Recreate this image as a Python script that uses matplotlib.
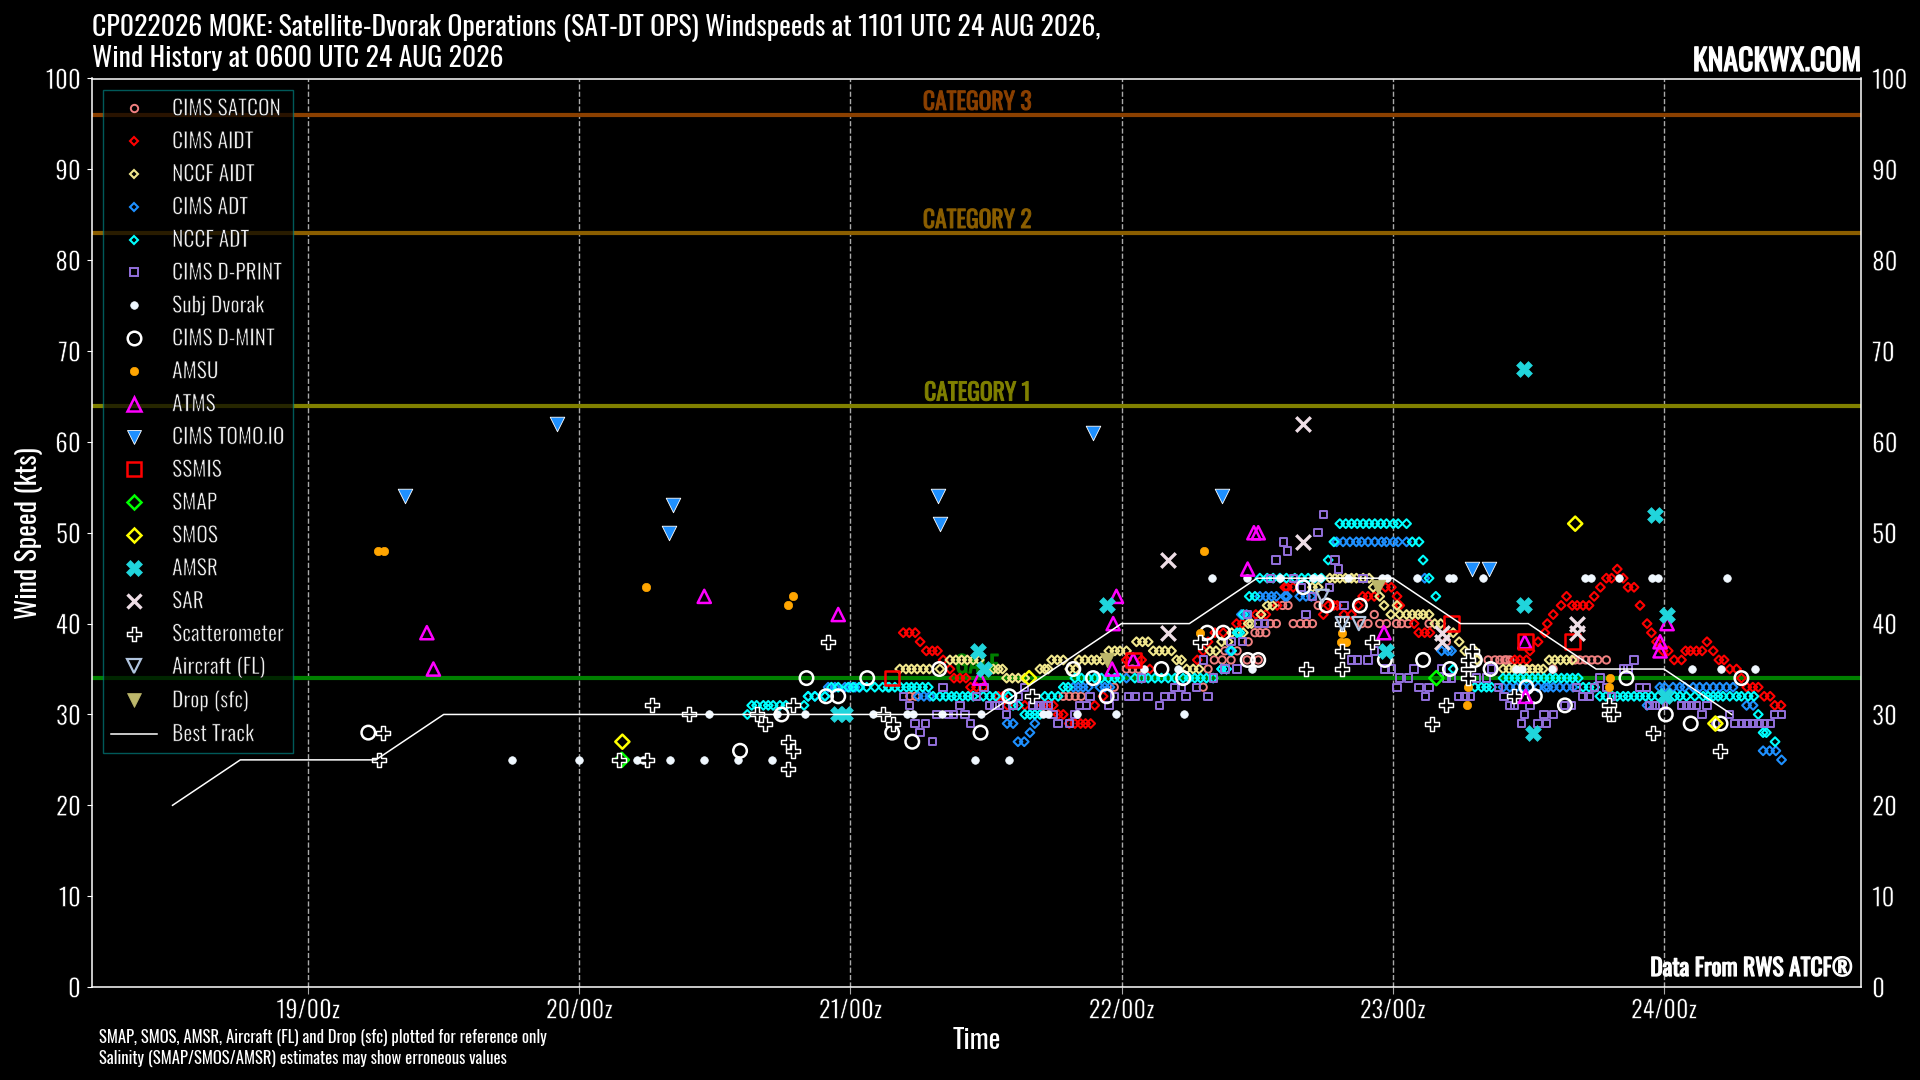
#!/usr/bin/env python3
# -*- coding: utf-8 -*-
import matplotlib
matplotlib.use("Agg")
import matplotlib.pyplot as plt
import matplotlib.patheffects as pe
from matplotlib.lines import Line2D

plt.rcParams['font.family'] = ['Oswald', 'DejaVu Sans']

# times are decimal days of August, each series is grouped as (wind, [times])
best_x = [18.5, 18.75, 19.25, 19.5, 21.5, 22.0, 22.25, 22.5, 23.0, 23.25, 23.5, 23.75, 24.0, 24.25]
best_y = [20, 25, 25, 30, 30, 40, 40, 45, 45, 40, 40, 35, 35, 30]

satcon = [
    (32, [21.219, 21.241, 21.785, 21.807, 21.829, 21.851]),
    (33, [21.973, 22.301]),
    (35, [22.018, 22.04, 22.062, 22.319, 23.493, 23.515, 23.592]),
    (36, [22.342, 22.371, 22.404, 22.463, 22.504, 23.352, 23.377, 23.395, 23.413, 23.42, 23.432,
          23.672, 23.69, 23.712, 23.734, 23.756, 23.788]),
    (37, [22.381, 22.426]),
    (38, [22.467, 23.198]),
    (39, [22.492, 22.51, 22.532]),
    (40, [22.549, 22.571, 22.633, 22.66, 22.682, 22.704, 22.885, 22.909, 22.952, 22.977, 23.014,
          23.032, 23.057, 23.134]),
    (41, [22.932]),
    (42, [22.594, 22.614, 22.725]),
]
aidt = [
    (39, [21.195, 21.217, 21.239, 22.344, 22.375, 23.096, 23.118, 23.137, 23.561, 23.954]),
    (38, [21.257, 22.319, 23.536, 23.973, 24.159]),
    (37, [21.28, 21.302, 21.321, 22.301, 23.506, 23.997, 24.016, 24.08, 24.098, 24.12, 24.141, 24.182]),
    (36, [21.342, 22.018, 22.074, 22.279, 23.45, 23.469, 23.493, 24.038, 24.065, 24.203, 24.222]),
    (35, [21.367, 22.104, 24.243, 24.268]),
    (34, [21.382, 21.404, 21.426, 24.286]),
    (33, [21.443, 21.465, 21.49, 24.306, 24.328, 24.348]),
    (32, [21.545, 21.563, 21.932, 24.37, 24.392]),
    (31, [21.579, 21.643, 21.711, 21.729, 21.748, 21.901, 24.409, 24.432]),
    (30, [21.766, 21.785]),
    (29, [21.807, 21.828, 21.849, 21.867, 21.886]),
    (40, [22.424, 22.445, 23.079, 23.57, 23.938]),
    (41, [22.495, 22.514, 22.532, 22.744, 22.82, 22.848, 23.592]),
    (42, [22.574, 22.762, 22.783, 22.795, 22.873, 23.026, 23.621, 23.662, 23.68, 23.702, 23.724, 23.912]),
    (43, [22.889, 22.909, 22.932, 23.016, 23.641, 23.743]),
    (44, [22.602, 22.611, 22.633, 22.973, 22.995, 23.766, 23.868, 23.89]),
    (45, [23.788, 23.807, 23.85]),
    (46, [23.828]),
]
nccf_aidt = [
    (34, [21.576, 21.597, 21.619, 21.643]),
    (35, [21.182, 21.205, 21.225, 21.246, 21.269, 21.291, 21.33, 21.527, 21.545, 21.561, 21.699,
          21.717, 21.729, 21.809, 21.831, 22.24, 22.264, 22.286, 23.407, 23.429, 23.45, 23.47,
          23.494, 23.515, 23.536, 23.555]),
    (36, [21.367, 21.389, 21.41, 21.431, 21.453, 21.475, 21.742, 21.763, 21.785, 21.843, 21.865,
          21.889, 21.908, 21.93, 22.203, 22.221, 23.311, 23.577, 23.598, 23.619, 23.641, 23.662]),
    (37, [21.953, 21.975, 21.994, 22.018, 22.117, 22.139, 22.16, 22.184, 22.326, 22.348, 23.266, 23.303]),
    (38, [22.055, 22.077, 22.098, 22.369, 22.393, 23.245]),
    (39, [22.406, 22.449, 23.198, 23.223]),
    (40, [22.467, 22.479, 23.155, 23.177]),
    (41, [22.514, 22.993, 23.026, 23.051, 23.072, 23.094, 23.112, 23.134]),
    (42, [22.537, 22.557, 22.968, 23.016]),
    (43, [22.952]),
    (44, [22.704, 22.725, 22.928]),
    (45, [22.768, 22.787, 22.805, 22.826, 22.848, 22.866, 22.891, 22.913]),
]
cims_adt = [
    (32, [21.25, 21.271, 21.293, 20.844, 20.869, 20.906]),
    (33, [20.918, 20.943, 20.98, 20.998, 21.017, 21.035, 21.822, 21.84, 21.858, 21.877, 21.92,
          21.938, 21.957, 23.407, 23.432, 23.456, 23.481, 23.506, 23.536, 23.561, 23.573, 23.592,
          23.616, 23.641, 23.665, 23.985, 24.003, 24.034, 24.059, 24.077, 24.108, 24.132, 24.157,
          24.182, 24.206, 24.231, 24.255]),
    (29, [21.578, 21.6, 21.68]),
    (28, [21.662]),
    (27, [21.618, 21.641]),
    (34, [22.018, 22.074]),
    (35, [22.369, 22.387]),
    (37, [22.399, 23.18, 23.204, 23.217]),
    (41, [22.442, 22.461]),
    (43, [22.51, 22.532, 22.553, 22.571, 22.602, 22.611, 22.657, 22.68, 22.7]),
    (49, [22.793, 22.817, 22.842, 22.866, 22.885, 22.909, 22.934, 22.959, 22.977, 23.002, 23.02, 23.051]),
    (45, [23.118]),
    (31, [23.938, 24.305, 24.329]),
    (26, [24.366, 24.39, 24.413]),
    (25, [24.434]),
]
nccf_adt = [
    (31, [20.636, 20.654, 20.679, 20.697, 20.715, 20.74, 20.762, 20.829, 21.6, 21.619]),
    (30, [20.62, 21.643, 21.662, 21.68, 21.699, 24.348]),
    (32, [20.844, 20.869, 20.906, 21.305, 21.33, 21.352, 21.373, 21.391, 21.414, 21.434, 21.453,
          21.49, 21.514, 21.536, 21.582, 21.717, 21.742, 21.766, 23.764, 23.786, 23.81, 23.828,
          23.85, 23.868, 23.89, 23.911, 23.932, 23.954, 23.979, 24.04, 24.059, 24.083, 24.114,
          24.145, 24.163, 24.182, 24.2, 24.218, 24.243, 24.268, 24.286, 24.311, 24.332]),
    (33, [20.93, 20.955, 20.992, 21.01, 21.032, 21.06, 21.09, 21.119, 21.139, 21.164, 21.143, 21.185,
          21.207, 21.225, 21.244, 21.266, 21.287, 21.785, 21.803, 23.303, 23.327, 23.346, 23.364,
          23.702, 23.724, 23.745]),
    (34, [21.828, 21.852, 21.877, 21.901, 21.926, 21.951, 21.975, 21.994, 22.049, 22.074, 22.098,
          22.123, 22.147, 22.172, 22.197, 22.227, 22.249, 22.27, 22.291, 22.313, 22.338, 23.407,
          23.429, 23.45, 23.471, 23.493, 23.515, 23.536, 23.558, 23.579, 23.601, 23.622, 23.643,
          23.663, 23.684]),
    (35, [22.369, 22.387, 23.223]),
    (37, [22.406]),
    (39, [22.426, 22.436]),
    (41, [22.449]),
    (43, [22.471, 22.492, 23.159]),
    (45, [22.51, 22.537, 22.559, 22.584, 22.608, 22.639, 22.664, 22.688, 22.713, 22.737, 23.134]),
    (47, [22.762, 23.112]),
    (49, [22.783, 23.072, 23.097]),
    (51, [22.805, 22.827, 22.848, 22.869, 22.891, 22.913, 22.934, 22.956, 22.977, 23.002, 23.02, 23.051]),
    (28, [24.366, 24.378]),
    (27, [24.41]),
]
dprint_ = [
    (33, [21.342, 21.493, 21.641, 22.197, 22.221, 22.276, 23.016, 23.097, 23.134, 23.389, 23.678,
          23.745, 23.788, 23.911, 23.936]),
    (32, [21.195, 21.465, 21.619, 21.883, 21.975, 22.028, 22.049, 22.098, 22.16, 22.184, 22.237,
          22.319, 23.121, 23.245, 23.266, 23.287, 23.41, 23.702, 23.724, 23.807]),
    (31, [21.217, 21.404, 21.514, 21.533, 21.551, 21.6, 21.674, 21.693, 21.711, 21.729, 21.846,
          21.871, 21.954, 22.139, 23.432, 23.45, 23.506, 23.635, 23.659, 23.948, 23.967, 23.985,
          23.997, 24.065, 24.083, 24.102, 24.12, 24.159]),
    (30, [21.318, 21.361, 21.379, 21.422, 21.576, 21.748, 21.828, 23.487, 23.558, 23.592, 24.141,
          24.243, 24.409, 24.434]),
    (29, [21.238, 21.278, 21.444, 21.766, 21.807, 23.475, 23.536, 23.567, 24.191, 24.262, 24.286,
          24.307, 24.329, 24.351, 24.372, 24.393]),
    (28, [21.256]),
    (27, [21.302]),
    (34, [22.074, 22.338, 23.026, 23.057, 23.198, 23.217, 23.309, 23.346, 23.764]),
    (35, [22.381, 22.426, 22.971, 22.995, 23.079, 23.18, 23.364, 23.85, 23.868]),
    (36, [22.303, 22.848, 22.869, 22.909, 23.89]),
    (37, [22.934]),
    (38, [22.403, 22.445]),
    (40, [22.504, 22.528]),
    (41, [22.465, 22.68]),
    (42, [22.82]),
    (43, [22.704]),
    (44, [22.664, 22.766]),
    (45, [22.549, 22.633, 22.891]),
    (46, [22.799]),
    (47, [22.569, 22.787]),
    (48, [22.611]),
    (49, [22.598]),
    (50, [22.725]),
    (52, [22.744]),
]
subj = [
    (25, [19.753, 20.0, 20.212, 20.234, 20.335, 20.461, 20.587, 20.712, 21.46, 21.586]),
    (30, [20.48, 20.73, 20.833, 20.959, 20.982, 21.084, 21.21, 21.232, 21.336, 21.482, 21.711,
          21.729, 21.836, 21.981, 22.23]),
    (35, [22.083, 22.209, 22.482, 23.456, 23.475, 23.586, 24.104, 24.212, 24.335]),
    (45, [22.334, 22.461, 22.584, 22.707, 22.731, 22.836, 22.959, 22.979, 23.088, 23.208, 23.223,
          23.333, 23.708, 23.731, 23.835, 23.958, 23.979, 24.231]),
]
dmint = [
    (28, [19.222, 21.154, 21.48]),
    (26, [20.593]),
    (34, [20.838, 21.062, 21.895, 22.227, 23.862, 24.286]),
    (30, [20.746, 24.007]),
    (32, [20.91, 20.955, 21.586, 21.945, 23.524]),
    (27, [21.228]),
    (35, [21.328, 21.822, 22.147, 23.211, 23.361]),
    (39, [22.316, 22.375]),
    (36, [22.465, 22.504, 22.971, 23.112, 23.303]),
    (44, [22.67]),
    (42, [22.756, 22.879]),
    (33, [23.493]),
    (31, [23.635]),
    (29, [24.099, 24.209]),
]
amsu = [
    (48, [19.259, 19.28, 22.305]),
    (44, [20.246]),
    (43, [20.789]),
    (42, [20.771]),
    (39, [22.289, 22.812]),
    (38, [22.811, 22.827]),
    (33, [23.278, 23.798]),
    (31, [23.275]),
    (34, [23.803]),
]
atms = [
    (39, [19.438, 22.968]),
    (35, [19.462, 21.965]),
    (43, [20.461, 21.981]),
    (41, [20.955]),
    (34, [21.477]),
    (40, [21.969, 24.012]),
    (36, [22.043]),
    (46, [22.465]),
    (50, [22.488, 22.504]),
    (32, [23.49]),
    (38, [23.487, 23.986]),
    (37, [23.986]),
]
tomo = [
    (54, [19.359, 21.323, 22.369]),
    (62, [19.919]),
    (53, [20.347]),
    (50, [20.332]),
    (51, [21.33]),
    (61, [21.896]),
    (46, [23.294, 23.356]),
]
ssmis = [(34, [21.154]), (36, [22.043]), (40, [23.217]), (38, [23.49, 23.662])]
smap = [(25, [20.157]), (34, [23.161])]
smos = [(27, [20.159]), (34, [21.659]), (51, [23.673]), (29, [24.19])]
amsr = [
    (30, [20.955, 20.98]),
    (37, [21.471, 22.977]),
    (35, [21.493]),
    (42, [21.947, 23.485]),
    (28, [23.518]),
    (68, [23.486]),
    (52, [23.967]),
    (41, [24.01]),
    (32, [24.006]),
]
sar = [
    (39, [22.172, 23.18, 23.678]),
    (47, [22.171]),
    (49, [22.67]),
    (62, [22.669]),
    (38, [23.18]),
    (40, [23.678]),
]
scat = [
    (28, [19.278, 23.96]),
    (25, [19.263, 20.148, 20.249]),
    (31, [20.267, 20.789, 23.195, 23.798]),
    (30, [20.406, 20.656, 21.121, 23.798, 23.813]),
    (38, [20.918, 22.291, 22.925]),
    (29, [20.686, 21.158, 23.145]),
    (27, [20.771]),
    (26, [20.789, 24.206]),
    (24, [20.771]),
    (32, [21.67, 23.448]),
    (40, [22.814]),
    (37, [22.814, 23.294]),
    (35, [22.814, 22.682, 23.278]),
    (36, [23.278]),
    (34, [23.278]),
]
aircraft = [(43, [22.74]), (40, [22.814, 22.875])]
drop = [(44, [22.945]), (36, [21.947])]

ticks_x = [19, 20, 21, 22, 23, 24]
ticklabels_x = ['19/00z', '20/00z', '21/00z', '22/00z', '23/00z', '24/00z']
categories = [(96, 'CATEGORY 3', '#8B4000'), (83, 'CATEGORY 2', '#8B5E00'),
              (64, 'CATEGORY 1', '#808000'), (34, 'GALE', '#008000')]

# label, rows, marker, size, face, edge, linewidth
series = [
    ('CIMS SATCON', satcon, 'o', 28, 'none', '#F08080', 1.4),
    ('CIMS AIDT', aidt, 'D', 20, 'none', '#FF0000', 1.5),
    ('NCCF AIDT', nccf_aidt, 'D', 20, 'none', '#F0E68C', 1.5),
    ('CIMS ADT', cims_adt, 'D', 20, 'none', '#1E90FF', 1.5),
    ('NCCF ADT', nccf_adt, 'D', 20, 'none', '#00FFFF', 1.5),
    ('CIMS D-PRINT', dprint_, 's', 28, 'none', '#9370DB', 1.4),
    ('Subj Dvorak', subj, 'o', 30, '#F0F8FF', '#F0F8FF', 0.5),
    ('CIMS D-MINT', dmint, 'o', 95, 'none', '#FFFFFF', 1.8),
    ('AMSU', amsu, 'o', 36, '#FFA500', '#FFA500', 0.5),
    ('ATMS', atms, '^', 90, 'none', '#FF00FF', 1.8),
    ('CIMS TOMO.IO', tomo, 'v', 110, '#1E90FF', '#FFFFFF', 0.6),
    ('SSMIS', ssmis, 's', 110, 'none', '#FF0000', 1.8),
    ('SMAP', smap, 'D', 52, 'none', '#00FF00', 1.8),
    ('SMOS', smos, 'D', 52, 'none', '#FFFF00', 1.8),
    ('AMSR', amsr, 'X', 130, '#20D5DC', '#20D5DC', 0.5),
    ('SAR', sar, 'x', 110, '#EEDDE5', '#EEDDE5', 2.4),
    ('Scatterometer', scat, 'P', 90, '#000000', '#FFFFFF', 1.05),
    ('Aircraft (FL)', aircraft, 'v', 90, 'none', '#B0C4DE', 1.6),
    ('Drop (sfc)', drop, 'v', 110, '#BDB76B', '#BDB76B', 0.5),
]

# only the regular cut of Oswald loads, so weights are faked with an outline
LIGHT = [pe.Stroke(linewidth=0.45, foreground='black')]


def bold(color, width=0.7):
    return [pe.Stroke(linewidth=width, foreground=color)]


def flatten(rows):
    xs = []
    ys = []
    for wind, times in rows:
        xs.extend(times)
        ys.extend([wind] * len(times))
    return xs, ys


fig = plt.figure(figsize=(19.2, 10.8), dpi=100, facecolor='black')
ax = fig.add_axes([92 / 1920, (1080 - 987) / 1080, 1769 / 1920, 908.5 / 1080], facecolor='black')
ax.set_xlim(18.203, 24.727)
ax.set_ylim(0, 100)

ax.grid(axis='x', color='#AAAAAA', linestyle='--', linewidth=1)
ax.set_axisbelow(True)
for spine in ax.spines.values():
    spine.set_color('white')
    spine.set_linewidth(1.1)

ax.set_xticks(ticks_x)
ax.set_xticklabels(ticklabels_x)
ax.set_yticks(range(0, 101, 10))
ax.tick_params(axis='x', colors='white', labelsize=17.5, length=5, pad=4, color='#AAAAAA')
ax.tick_params(axis='y', colors='white', labelsize=18, length=3.5, pad=4.5, right=False)

ax2 = ax.twinx()
ax2.set_ylim(0, 100)
ax2.set_yticks(range(0, 101, 10))
ax2.tick_params(axis='y', colors='white', labelsize=18, length=0, pad=8)
for spine in ax2.spines.values():
    spine.set_visible(False)

for tick_text in ax.get_xticklabels() + ax.get_yticklabels() + ax2.get_yticklabels():
    tick_text.set_path_effects(LIGHT)

for wind, name, color in categories:
    ax.axhline(wind, color=color, linewidth=3, zorder=1.5)
    ax.text(21.468, wind + 0.55, name, color=color, ha='center', va='baseline',
            fontsize=17, zorder=1.6, path_effects=bold(color))

handles = []
for z, (label, rows, marker, size, face, edge, lw) in enumerate(series):
    xs, ys = flatten(rows)
    ax.scatter(xs, ys, s=size, marker=marker, facecolors=face, edgecolors=edge,
               linewidths=lw, zorder=3 + z * 0.01)
    handles.append(Line2D([], [], linestyle='none', marker=marker, markersize=size ** 0.5,
                          markerfacecolor=face, markeredgecolor=edge, markeredgewidth=lw,
                          label=label))

line, = ax.plot(best_x, best_y, color='white', linewidth=1.1, zorder=4, label='Best Track')
handles.append(line)

legend = ax.legend(handles=handles, loc='upper left', bbox_to_anchor=(11 / 1769, 1 - 11 / 908.5),
                   borderaxespad=0, fontsize=15.4, labelspacing=0.507, handlelength=2.15,
                   handletextpad=0.7, borderpad=0.38, fancybox=False,
                   facecolor='black', edgecolor='#008080', framealpha=0.7)
legend.set_zorder(6)
legend.get_frame().set_linewidth(1)
for text in legend.get_texts():
    text.set_color('#F0F0F0')
    text.set_path_effects(LIGHT)

ax.set_xlabel('Time', color='white', fontsize=20, labelpad=3)
ax.set_ylabel('Wind Speed (kts)', color='white', fontsize=20, labelpad=2)

fig.text(92 / 1920, 1 - 43 / 1080,
         'CP022026 MOKE: Satellite-Dvorak Operations (SAT-DT OPS) Windspeeds at 1101 UTC 24 AUG 2026,\n'
         'Wind History at 0600 UTC 24 AUG 2026',
         color='white', fontsize=20, ha='left', va='center', linespacing=1.11)
fig.text(1861 / 1920, 1 - 71 / 1080, 'KNACKWX.COM', color='white', fontsize=21.5,
         ha='right', va='baseline', path_effects=bold('white', 0.9))
ax.text(1853 / 1920, 1 - 976 / 1080, 'Data From RWS ATCF\u00ae', color='white', fontsize=17,
        ha='right', va='baseline', transform=fig.transFigure, zorder=7, path_effects=bold('white', 0.9))
fig.text(99 / 1920, 1 - 1048 / 1080,
         'SMAP, SMOS, AMSR, Aircraft (FL) and Drop (sfc) plotted for reference only\n'
         'Salinity (SMAP/SMOS/AMSR) estimates may show erroneous values',
         color='white', fontsize=12, ha='left', va='center', linespacing=1.28)

fig.savefig('out.png', dpi=100, facecolor='black')
